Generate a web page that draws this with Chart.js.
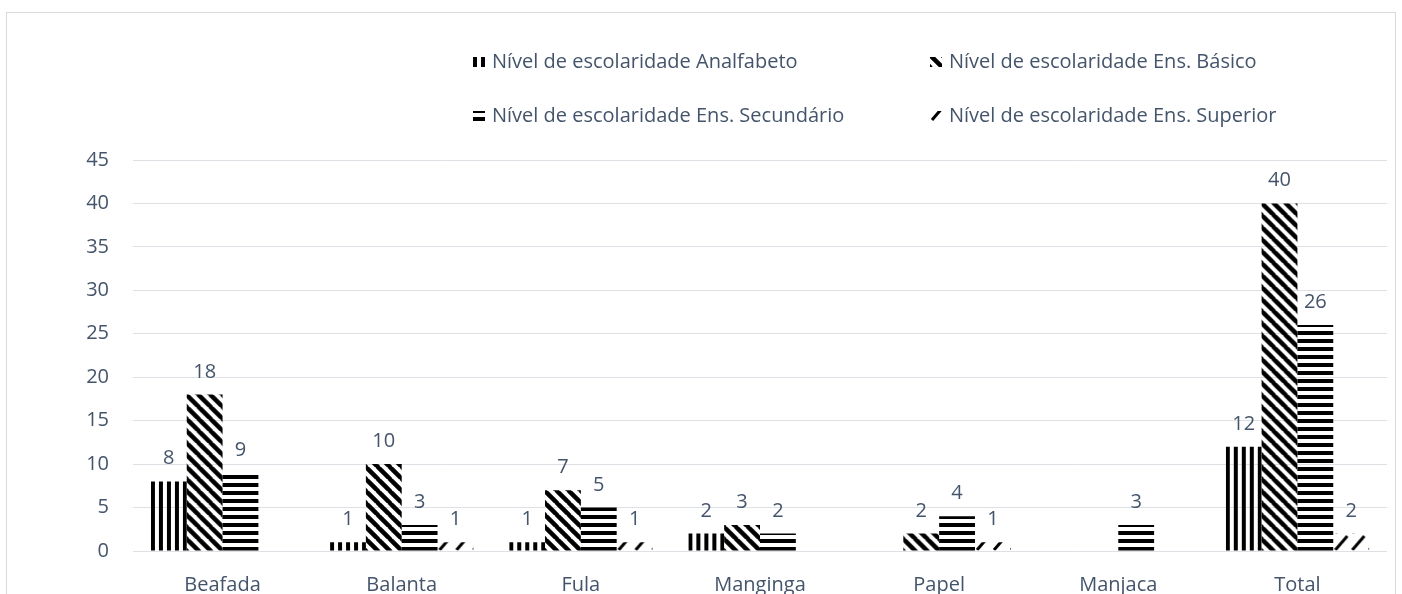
<!DOCTYPE html>
<html>
<head>
<meta charset="utf-8">
<script src="https://cdn.jsdelivr.net/npm/chart.js@4.4.0/dist/chart.umd.min.js"></script>
<style>
  body { margin: 0; background: #fff; }
  #frame { position: absolute; left: 6px; top: 12px; width: 1388px; height: 700px; border: 1px solid #d9d9d9; }
  #c { position: absolute; left: 0; top: 0; }
</style>
</head>
<body>
<div id="frame"></div>
<canvas id="c" width="1402" height="594"></canvas>
<script>
const categories = ['Beafada', 'Balanta', 'Fula', 'Manginga', 'Papel', 'Manjaca', 'Total'];
const analfabeto = [8, 1, 1, 2, 0, 0, 12];
const basico = [18, 10, 7, 3, 2, 0, 40];
const secundario = [9, 3, 5, 2, 4, 3, 26];
const superior = [0, 1, 1, 0, 1, 0, 2];
const seriesLabels = [
  'Nível de escolaridade Analfabeto',
  'Nível de escolaridade Ens. Básico',
  'Nível de escolaridade Ens. Secundário',
  'Nível de escolaridade Ens. Superior'
];
const yTicks = [0, 5, 10, 15, 20, 25, 30, 35, 40, 45];

const textColor = '#44546a';
const gridColor = '#dde1e6';
const fontFamily = '"Open Sans", "Noto Sans", sans-serif';

// pattern tiles, like the Office fill patterns
function tile(kind) {
  const t = document.createElement('canvas');
  const g = t.getContext('2d');
  g.fillStyle = '#000';
  g.strokeStyle = '#000';
  if (kind === 'vert') {
    t.width = 8; t.height = 8;
    g.fillRect(0, 0, 4, 8);
  } else if (kind === 'horiz') {
    t.width = 8; t.height = 8;
    g.fillRect(0, 4, 8, 4);
  } else if (kind === 'down') {
    t.width = 12; t.height = 12;
    g.lineWidth = 4.5;
    g.beginPath();
    for (let k = -1; k <= 1; k++) {
      g.moveTo(k * 12 - 1, -1);
      g.lineTo(k * 12 + 13, 13);
    }
    g.stroke();
  } else {
    t.width = 17; t.height = 17;
    g.lineWidth = 3;
    g.beginPath();
    g.moveTo(2, 16);
    g.lineTo(14, 2);
    g.stroke();
  }
  return t;
}
const kinds = ['vert', 'down', 'horiz', 'dash'];
const tiles = {};
kinds.forEach(k => { tiles[k] = tile(k); });

function patternAt(ctx, kind, x, y) {
  const p = ctx.createPattern(tiles[kind], 'repeat');
  p.setTransform(new DOMMatrix().translate(x, y));
  return p;
}

function barFill(dsIndex) {
  return (context) => {
    const chart = context.chart;
    const xs = chart.scales.x, ys = chart.scales.y;
    if (!xs || !ys || context.dataIndex === undefined) return '#000';
    const cw = (xs.right - xs.left) / categories.length;
    const group = cw * 0.8;
    const left = xs.getPixelForValue(context.dataIndex) - group / 2 + dsIndex * group / 4;
    return patternAt(chart.ctx, kinds[dsIndex], left, ys.getPixelForValue(0));
  };
}

const valueLabels = {
  id: 'valueLabels',
  afterDatasetsDraw(chart) {
    const c = chart.ctx;
    c.save();
    c.font = '20px ' + fontFamily;
    c.fillStyle = textColor;
    c.textAlign = 'center';
    c.textBaseline = 'alphabetic';
    chart.data.datasets.forEach((ds, i) => {
      chart.getDatasetMeta(i).data.forEach((bar, j) => {
        const v = ds.data[j];
        if (!v) return;
        c.fillText(String(v), bar.x, bar.y - 17);
      });
    });
    c.restore();
  }
};

// 2 x 2 legend with aligned columns
const gridLegend = {
  id: 'gridLegend',
  afterDraw(chart) {
    const c = chart.ctx;
    const cols = [492, 949];
    const rows = [62, 116];
    c.save();
    chart.data.datasets.forEach((ds, i) => {
      const tx = cols[i % 2];
      const ty = rows[Math.floor(i / 2)];
      const bx = tx - 19, by = ty - 5;
      c.fillStyle = patternAt(c, kinds[i], bx, by + 10);
      c.fillRect(bx, by, 12, 10);
      c.fillStyle = textColor;
      c.font = '20px ' + fontFamily;
      c.textAlign = 'left';
      c.textBaseline = 'middle';
      c.fillText(ds.label, tx, ty);
    });
    c.restore();
  }
};

const seriesData = [analfabeto, basico, secundario, superior];

new Chart(document.getElementById('c'), {
  type: 'bar',
  data: {
    labels: categories,
    datasets: seriesData.map((d, i) => ({
      label: seriesLabels[i],
      data: d,
      backgroundColor: barFill(i),
      borderWidth: 0
    }))
  },
  options: {
    responsive: false,
    animation: false,
    events: [],
    layout: { padding: { top: 160, right: 15, left: 0, bottom: 0 } },
    datasets: { bar: { categoryPercentage: 0.8, barPercentage: 1 } },
    plugins: {
      legend: { display: false },
      tooltip: { enabled: false }
    },
    scales: {
      x: {
        grid: { display: false, drawTicks: false },
        border: { display: false },
        ticks: { color: textColor, font: { family: fontFamily, size: 20 }, padding: 22 },
        afterFit(s) { s.height = 43; }
      },
      y: {
        min: 0,
        max: 45,
        afterBuildTicks(s) { s.ticks = yTicks.map(v => ({ value: v })); },
        ticks: { color: textColor, font: { family: fontFamily, size: 20 }, padding: 24 },
        grid: { color: gridColor, drawTicks: false },
        border: { display: false },
        afterFit(s) { s.width = 133; }
      }
    }
  },
  plugins: [valueLabels, gridLegend]
});
</script>
</body>
</html>
